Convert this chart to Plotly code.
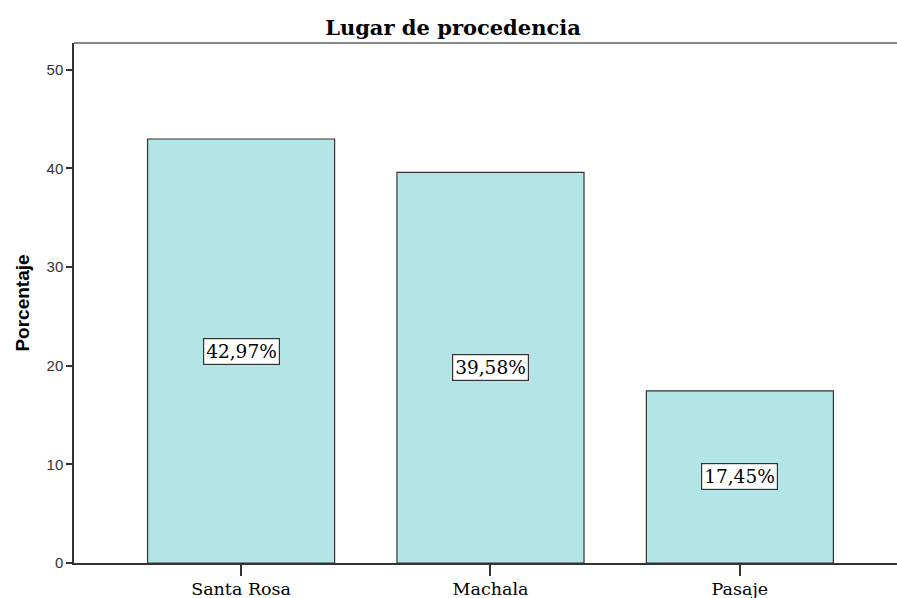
import plotly.graph_objects as go

categories = ["Santa Rosa", "Machala", "Pasaje"]
percentages = [42.97, 39.58, 17.45]
y_ticks = [0, 10, 20, 30, 40, 50]

BAR_COLOUR = "#B3E5E7"
SERIF = "DejaVu Serif, Liberation Serif, serif"
SANS = "Liberation Sans, Arial, sans-serif"

fig = go.Figure(go.Bar(
    x=categories,
    y=percentages,
    width=0.75,
    marker=dict(color=BAR_COLOUR, line=dict(color="#333333", width=1.2)),
    hoverinfo="x+y",
))

# boxed value labels in the middle of each bar
for cat, val in zip(categories, percentages):
    fig.add_annotation(
        x=cat, y=val / 2,
        text=f"{val:.2f}%".replace(".", ","),
        showarrow=False,
        font=dict(family=SERIF, size=18.5, color="#000000"),
        bgcolor="#FFFFFF",
        bordercolor="#333333",
        borderwidth=1.2,
        borderpad=2,
    )

fig.update_layout(
    title=dict(
        text="<b>Lugar de procedencia</b>",
        x=0.505, xanchor="center", y=0.953, yanchor="middle",
        font=dict(family=SERIF, size=21, color="#000000"),
    ),
    width=897, height=598,
    paper_bgcolor="#FFFFFF",
    plot_bgcolor="#FFFFFF",
    showlegend=False,
    margin=dict(l=74, r=0, t=43, b=35),
    xaxis=dict(
        range=[-0.67, 2.63],
        showgrid=False, zeroline=False,
        showline=True, linecolor="#333333", linewidth=1.5,
        ticks="outside", ticklen=11, tickcolor="#333333", tickwidth=1.5,
        ticklabelstandoff=-2,
        tickfont=dict(family=SERIF, size=17.5, color="#000000"),
    ),
    yaxis=dict(
        range=[0, 52.7],
        tickvals=y_ticks,
        showgrid=False, zeroline=False,
        showline=True, linecolor="#333333", linewidth=1.5,
        ticks="outside", ticklen=6, tickcolor="#333333", tickwidth=1.5,
        tickfont=dict(family=SANS, size=15, color="#333333"),
        title=dict(text="<b>Porcentaje</b>", font=dict(family=SANS, size=19, color="#000000"), standoff=12),
    ),
)

# grey top frame line
fig.add_shape(type="line", xref="paper", yref="paper", x0=0, x1=1, y0=1, y1=1,
              line=dict(color="#888888", width=2))

fig.write_html("out.html", config={"displayModeBar": False},
               post_script="document.body.style.margin='0';")
